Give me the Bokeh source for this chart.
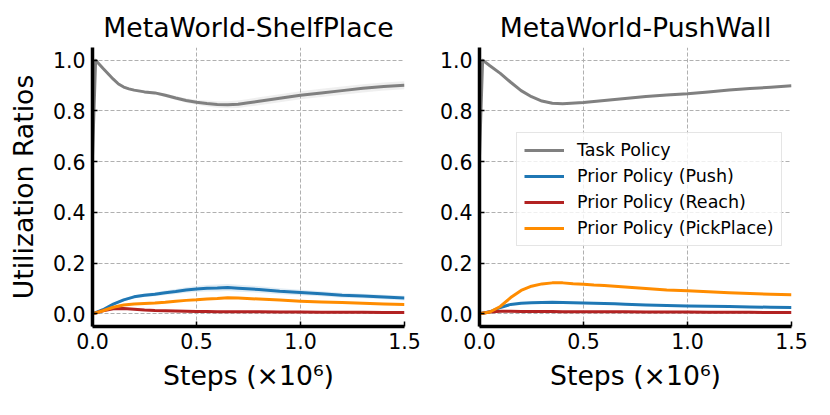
import numpy as np
from bokeh.plotting import figure
from bokeh.layouts import row
from bokeh.models import FixedTicker, PrintfTickFormatter, Range1d, Legend, LegendItem
from bokeh.embed import file_html
from bokeh.resources import INLINE

FONT = "DejaVu Sans"

TITLES = ["MetaWorld-ShelfPlace", "MetaWorld-PushWall"]
SERIES = ["Task Policy", "Prior Policy (Push)", "Prior Policy (Reach)", "Prior Policy (PickPlace)"]
COLORS = ["#808080", "#1f77b4", "#b22222", "#ff8c00"]
X_TICKS = [0.0, 0.5, 1.0, 1.5]
Y_TICKS = [0.0, 0.2, 0.4, 0.6, 0.8, 1.0]
X_LABEL = "Steps (×10⁶)"
Y_LABEL = "Utilization Ratios"

# ---- MetaWorld-ShelfPlace ----
sp_task_x = [0.0, 0.015, 0.05, 0.1, 0.125, 0.15, 0.175, 0.2, 0.25, 0.3, 0.35, 0.4, 0.45, 0.5,
             0.55, 0.6, 0.65, 0.7, 0.75, 0.8, 0.9, 1.0, 1.1, 1.2, 1.3, 1.4, 1.5]
sp_task_y = [0.62, 1.0, 0.968, 0.925, 0.906, 0.894, 0.887, 0.882, 0.875, 0.871, 0.862, 0.851, 0.841, 0.834,
             0.829, 0.825, 0.824, 0.826, 0.832, 0.838, 0.850, 0.862, 0.871, 0.880, 0.889, 0.896, 0.901]
sp_task_sd = [0.0, 0.003, 0.005, 0.005, 0.005, 0.005, 0.005, 0.005, 0.006, 0.006, 0.007, 0.008, 0.009, 0.010,
              0.012, 0.013, 0.014, 0.015, 0.015, 0.016, 0.016, 0.016, 0.016, 0.016, 0.016, 0.016, 0.016]

sp_prior_x = [0.0, 0.05, 0.1, 0.15, 0.2, 0.25, 0.3, 0.35, 0.4, 0.45, 0.5, 0.55, 0.6, 0.65,
              0.7, 0.8, 0.9, 1.0, 1.1, 1.2, 1.3, 1.4, 1.5]
sp_push = [0.0, 0.016, 0.038, 0.055, 0.067, 0.073, 0.077, 0.083, 0.088, 0.094, 0.098, 0.101, 0.102, 0.104,
           0.101, 0.096, 0.089, 0.084, 0.079, 0.073, 0.070, 0.066, 0.062]
sp_push_sd = [0.0, 0.003, 0.004, 0.005, 0.006, 0.007, 0.008, 0.009, 0.010, 0.011, 0.012, 0.013, 0.014, 0.014,
              0.014, 0.013, 0.012, 0.011, 0.010, 0.010, 0.009, 0.009, 0.009]
sp_reach = [0.0, 0.012, 0.020, 0.021, 0.018, 0.015, 0.013, 0.012, 0.011, 0.010, 0.009, 0.009, 0.008, 0.008,
            0.008, 0.008, 0.007, 0.007, 0.006, 0.006, 0.006, 0.005, 0.005]
sp_pick = [0.0, 0.012, 0.026, 0.035, 0.039, 0.041, 0.043, 0.046, 0.050, 0.053, 0.055, 0.058, 0.060, 0.063,
           0.062, 0.058, 0.054, 0.050, 0.047, 0.045, 0.042, 0.039, 0.037]

# ---- MetaWorld-PushWall ----
pw_task_x = [0.0, 0.015, 0.05, 0.1, 0.15, 0.2, 0.25, 0.3, 0.35, 0.4, 0.5, 0.6, 0.7, 0.8, 0.9,
             1.0, 1.1, 1.2, 1.3, 1.4, 1.5]
pw_task_y = [0.62, 1.0, 0.978, 0.948, 0.913, 0.880, 0.856, 0.839, 0.830, 0.828, 0.833, 0.841, 0.849,
             0.857, 0.863, 0.868, 0.875, 0.882, 0.888, 0.893, 0.899]
pw_task_sd = [0.0, 0.002, 0.003, 0.003, 0.003, 0.004, 0.004, 0.004, 0.004, 0.004, 0.004, 0.004, 0.004,
              0.004, 0.004, 0.004, 0.004, 0.004, 0.004, 0.004, 0.004]

pw_prior_x = [0.0, 0.05, 0.1, 0.15, 0.2, 0.25, 0.3, 0.35, 0.4, 0.45, 0.5, 0.55, 0.6, 0.65,
              0.7, 0.8, 0.9, 1.0, 1.1, 1.2, 1.3, 1.4, 1.5]
pw_push = [0.0, 0.008, 0.025, 0.037, 0.042, 0.044, 0.045, 0.046, 0.045, 0.044, 0.043, 0.042, 0.041, 0.040,
           0.038, 0.035, 0.033, 0.031, 0.030, 0.029, 0.027, 0.026, 0.025]
pw_push_sd = [0.0, 0.002, 0.003, 0.003, 0.003, 0.003, 0.003, 0.003, 0.003, 0.003, 0.003, 0.003, 0.003, 0.003,
              0.003, 0.003, 0.003, 0.003, 0.003, 0.003, 0.003, 0.003, 0.003]
pw_reach = [0.0, 0.007, 0.010, 0.010, 0.009, 0.009, 0.009, 0.009, 0.008, 0.008, 0.008, 0.008, 0.008, 0.008,
            0.008, 0.007, 0.007, 0.007, 0.006, 0.006, 0.006, 0.005, 0.005]
pw_pick = [0.0, 0.007, 0.029, 0.064, 0.092, 0.109, 0.118, 0.122, 0.122, 0.119, 0.117, 0.114, 0.112, 0.109,
           0.106, 0.100, 0.094, 0.091, 0.087, 0.083, 0.080, 0.077, 0.075]


def make_panel(title, task_x, task_y, task_sd, prior_x, push, push_sd, reach, pick,
               show_ylabel, show_legend, border_left):
    p = figure(frame_width=312, frame_height=279,
               min_border_left=border_left, min_border_right=20,
               min_border_top=47, min_border_bottom=66,
               x_range=Range1d(0.0, 1.5), y_range=Range1d(-0.05, 1.05),
               output_backend="svg", toolbar_location=None, title=title)
    p.outline_line_color = None
    p.background_fill_color = "white"
    p.border_fill_color = "white"

    p.title.text_font = FONT
    p.title.text_font_size = "26.7px"
    p.title.text_font_style = "normal"
    p.title.align = "center"
    p.title.text_color = "black"

    for ax in (p.xaxis[0], p.yaxis[0]):
        ax.axis_line_width = 3.5
        ax.axis_line_color = "black"
        ax.major_tick_in = 5
        ax.major_tick_out = 0
        ax.major_tick_line_width = 1.5
        ax.major_tick_line_color = "black"
        ax.minor_tick_line_color = None
        ax.major_label_text_font = FONT
        ax.major_label_text_font_size = "20.5px"
        ax.major_label_text_color = "black"
        ax.axis_label_text_font = FONT
        ax.axis_label_text_font_size = "26.7px"
        ax.axis_label_text_font_style = "normal"
        ax.axis_label_text_color = "black"
        ax.formatter = PrintfTickFormatter(format="%.1f")

    p.xaxis[0].ticker = FixedTicker(ticks=X_TICKS)
    p.yaxis[0].ticker = FixedTicker(ticks=Y_TICKS)
    p.xaxis[0].major_label_standoff = 6
    p.xaxis[0].axis_label_standoff = 8
    p.yaxis[0].major_label_standoff = 7
    p.yaxis[0].axis_label_standoff = 11
    p.xaxis[0].axis_label = X_LABEL
    if show_ylabel:
        p.yaxis[0].axis_label = Y_LABEL

    for g in (p.xgrid[0], p.ygrid[0]):
        g.grid_line_color = "#b0b0b0"
        g.grid_line_dash = "4 2"
        g.grid_line_width = 1

    tx = np.array(task_x); ty = np.array(task_y); tsd = np.array(task_sd)
    px = np.array(prior_x); pu = np.array(push); psd = np.array(push_sd)
    p.varea(x=tx, y1=ty - tsd, y2=ty + tsd, fill_color=COLORS[0], fill_alpha=0.13)
    p.varea(x=px, y1=pu - psd, y2=pu + psd, fill_color=COLORS[1], fill_alpha=0.13)

    r0 = p.line(tx, ty, line_color=COLORS[0], line_width=3, line_join="round")
    r1 = p.line(px, pu, line_color=COLORS[1], line_width=3, line_join="round")
    r2 = p.line(px, np.array(reach), line_color=COLORS[2], line_width=3, line_join="round")
    r3 = p.line(px, np.array(pick), line_color=COLORS[3], line_width=3, line_join="round")

    if show_legend:
        items = [LegendItem(label=SERIES[i], renderers=[r]) for i, r in enumerate([r0, r1, r2, r3])]
        lg = Legend(items=items, location=(37, 80), margin=0, padding=7, spacing=6,
                    label_height=20, glyph_height=20, glyph_width=40, label_standoff=13,
                    label_text_font=FONT, label_text_font_size="17.5px", label_text_color="black",
                    border_line_color="#cccccc", border_line_width=1.5,
                    background_fill_color="white", background_fill_alpha=0.8)
        p.add_layout(lg)
    return p


p1 = make_panel(TITLES[0], sp_task_x, sp_task_y, sp_task_sd, sp_prior_x, sp_push, sp_push_sd,
                sp_reach, sp_pick, True, False, 92)
p2 = make_panel(TITLES[1], pw_task_x, pw_task_y, pw_task_sd, pw_prior_x, pw_push, pw_push_sd,
                pw_reach, pw_pick, False, True, 55)

layout = row(p1, p2, spacing=0)
open("out.html", "w").write(file_html(layout, INLINE))
